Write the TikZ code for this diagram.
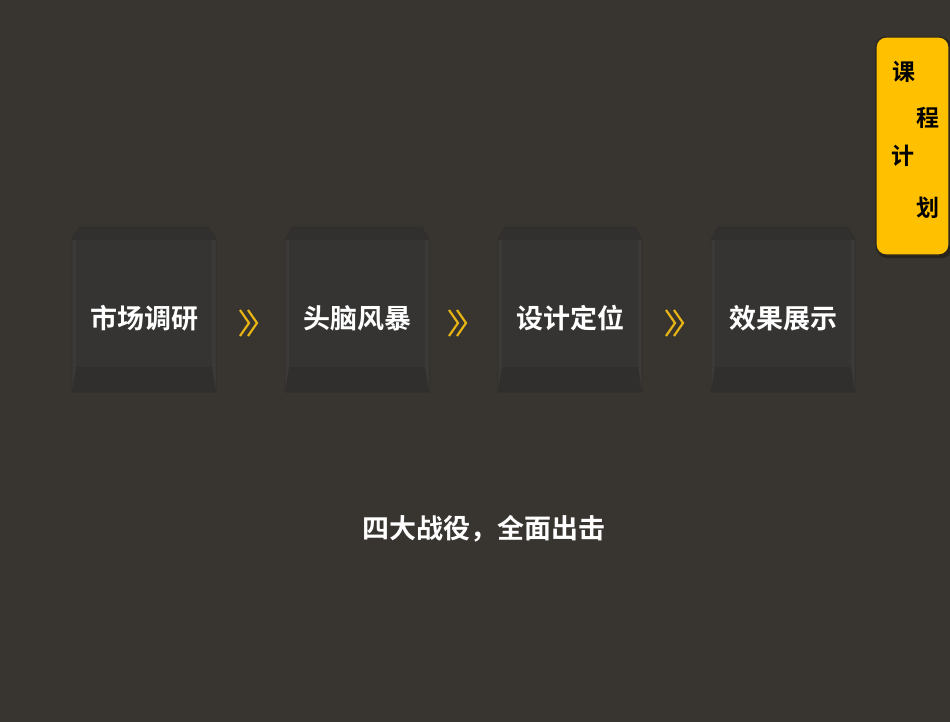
\documentclass[tikz,border=0pt]{standalone}
\usepackage{fontspec}
\usetikzlibrary{calc}
\newfontfamily\cjk{Noto Sans CJK SC Bold}
\begin{document}
\begin{tikzpicture}[x=1pt,y=-1pt,
  bgc/.style={fill={rgb,255:red,56;green,52;blue,47}},
  wordtxt/.style={font=\cjk\fontsize{27}{30}\selectfont, text=white, inner sep=0pt},
  tabtxt/.style={font=\cjk\fontsize{23}{26}\selectfont, text=black, inner sep=0pt},
  chev/.style={draw={rgb,255:red,230;green,180;blue,20}, line width=2.2pt, line cap=butt, line join=miter}
]
\definecolor{facec}{RGB}{54,52,50}
\definecolor{topc}{RGB}{50,48,46}
\definecolor{sidec}{RGB}{60,58,56}
\definecolor{botc}{RGB}{49,47,45}
\definecolor{edgec}{RGB}{46,44,42}
\definecolor{tabc}{RGB}{255,192,0}
\useasboundingbox (0,0) rectangle (950,722);
\fill[bgc] (0,0) rectangle (950,722);

% boxes
\foreach \n/\x/\t in {a/72/市场调研, b/285/头脑风暴, c/498/设计定位, d/711/效果展示}{
  \pgfmathsetmacro{\r}{\x+144}
  \fill[sidec] (\x,240) rectangle (\r,392);
  \fill[topc] (\x+7,227) -- (\r-7,227) -- (\r,240) -- (\x,240) -- cycle;
  \fill[facec] (\x+4,240) rectangle (\r-4,367);
  \fill[botc] (\x+4,367) -- (\r-4,367) -- (\r,392) -- (\x,392) -- cycle;
  \draw[edgec, line width=0.5pt] (\x+7,227) -- (\r-7,227) -- (\r,240) -- (\r,392) -- (\x,392) -- (\x,240) -- cycle;
  \node[wordtxt] (\n) at (\x+72,318) {\t};
}

% chevrons
\foreach \cx/\nm in {249/ca, 458/cb, 675/cc}{
  \coordinate (\nm) at (\cx,323);
  \draw[chev] ($(\nm)+(-9,-13)$) -- ($(\nm)+(0,0)$) -- ($(\nm)+(-9,13)$);
  \draw[chev] ($(\nm)+(-1,-13)$) -- ($(\nm)+(8,0)$) -- ($(\nm)+(-1,13)$);
}

% bottom text
\node[wordtxt] (slogan) at (484,529) {四大战役，全面出击};

% tab
\fill[black, opacity=0.3, rounded corners=10pt] (877,38) rectangle (952,258);
\draw[fill=tabc, draw={rgb,255:red,40;green,36;blue,30}, line width=1.2pt, rounded corners=10pt] (876,37) rectangle (949,255);
\node[tabtxt] (t1) at (904,72) {课};
\node[tabtxt] (t2) at (928,118) {程};
\node[tabtxt] (t3) at (903,156) {计};
\node[tabtxt] (t4) at (928,208) {划};
\end{tikzpicture}
\end{document}
